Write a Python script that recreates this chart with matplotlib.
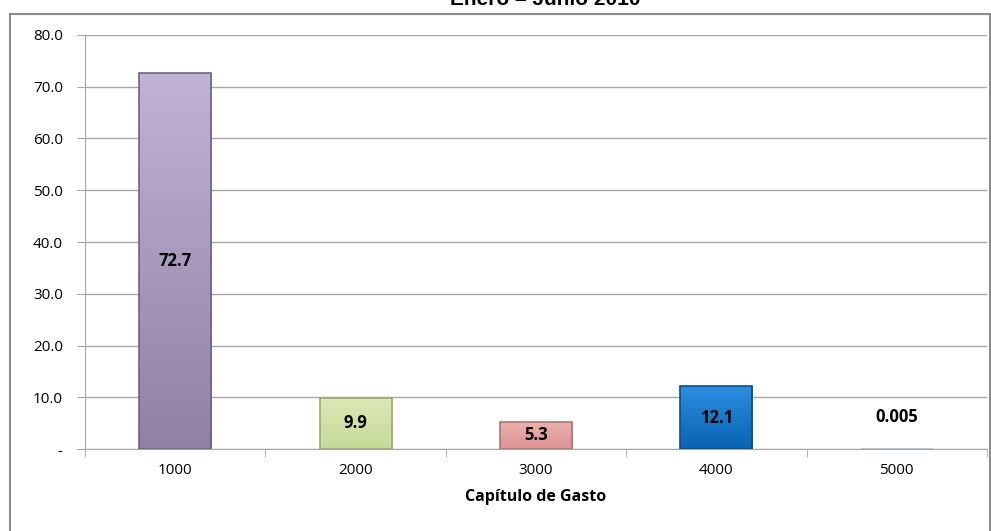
import numpy as np
import matplotlib.pyplot as plt
from matplotlib.patches import Rectangle
from matplotlib.colors import LinearSegmentedColormap

# data
categories = ["1000", "2000", "3000", "4000", "5000"]
values = [72.7, 9.9, 5.3, 12.1, 0.005]
value_labels = ["72.7", "9.9", "5.3", "12.1", "0.005"]
top_colors = ["#c1b3d6", "#dbe9b5", "#eab0ae", "#2c8ee0", "#dde8f5"]
bottom_colors = ["#8f81a3", "#c6d999", "#dc9391", "#0a63b3", "#c7d7ec"]
edge_colors = ["#6e6380", "#9aab6e", "#b07472", "#0a4f8c", "#a9bcd6"]

fig = plt.figure(figsize=(9.91, 5.31), dpi=100)
ax = fig.add_axes([85 / 991, 1 - 449 / 531, 902 / 991, 414 / 531])

# outer chart frame
fig.patches.append(Rectangle((10 / 991, -0.01), 980 / 991, 1 - 14 / 531 + 0.01,
                             transform=fig.transFigure, fill=False,
                             edgecolor="#8c8c8c", linewidth=1.5))

# title (partly cut off at the top like the original)
fig.text(545 / 991, 1 - 9 / 531, "Enero – Junio 2010", ha="center", va="bottom",
         fontsize=15, fontweight="bold", family="Liberation Sans")

x = np.arange(len(categories))
width = 0.4
ax.set_xlim(-0.5, len(categories) - 0.5)
ax.set_ylim(0, 80)

grad = np.linspace(0, 1, 256).reshape(-1, 1)
for i, (v, ct, cb, ce) in enumerate(zip(values, top_colors, bottom_colors, edge_colors)):
    rect = Rectangle((x[i] - width / 2, 0), width, v, facecolor="none",
                     edgecolor=ce, linewidth=1.2, zorder=3)
    ax.add_patch(rect)
    cmap = LinearSegmentedColormap.from_list("g%d" % i, [cb, ct])
    im = ax.imshow(grad, cmap=cmap, aspect="auto", origin="lower",
                   extent=(x[i] - width / 2, x[i] + width / 2, 0, v), zorder=2)
    im.set_clip_path(rect)

label_y = [36.3, 4.95, 2.65, 6.05, 6.2]
for i, lab in enumerate(value_labels):
    ax.text(x[i], label_y[i], lab, ha="center", va="center", fontsize=12,
            fontweight="bold", family="Open Sans", zorder=4)

ax.set_yticks(np.arange(0, 81, 10))
ax.set_yticklabels(["-"] + ["%.1f" % t for t in np.arange(10, 81, 10)],
                   fontsize=11, family="Open Sans")
ax.yaxis.grid(True, color="#a6a6a6", linewidth=1)
ax.set_axisbelow(True)

ax.set_xticks(x)
ax.set_xticklabels(categories, fontsize=11, family="Open Sans")
ax.tick_params(axis="x", length=0, pad=10)
ax.set_xticks(np.arange(-0.5, len(categories), 1), minor=True)
ax.tick_params(axis="x", which="minor", length=6, color="#a6a6a6")
ax.tick_params(axis="y", length=6, color="#a6a6a6", pad=10)
ax.set_xlabel("Capítulo de Gasto", fontsize=11.5, fontweight="bold",
              family="Open Sans", labelpad=8)

for s in ["top", "right"]:
    ax.spines[s].set_visible(False)
ax.spines["left"].set_color("#a6a6a6")
ax.spines["bottom"].set_color("#a6a6a6")

fig.savefig("out.png", dpi=100)
